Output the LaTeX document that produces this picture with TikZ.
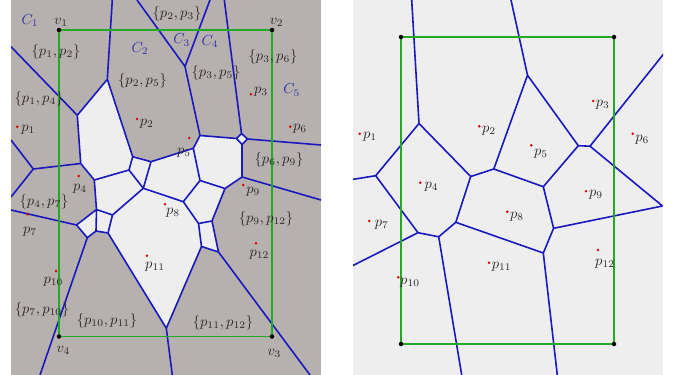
\documentclass[tikz,border=0pt]{standalone}
\definecolor{panelgray}{RGB}{182,176,174}
\definecolor{cellwhite}{RGB}{238,238,238}
\definecolor{vblue}{RGB}{25,25,190}
\definecolor{bgreen}{RGB}{35,170,35}
\definecolor{cblue}{RGB}{50,50,170}
\definecolor{txt}{RGB}{40,40,40}
\tikzset{
  vor/.style={draw=vblue, line width=1.6pt, line join=round},
  bbox/.style={draw=bgreen, line width=1.5pt},
  lab/.style={scale=1.45, text=txt, inner sep=0pt},
  clab/.style={lab, text=cblue},
  site/.style={circle, fill=red!85!black, inner sep=0pt, minimum size=2.8pt},
  corner/.style={circle, fill=black, inner sep=0pt, minimum size=4.5pt}
}
\begin{document}
\begin{tikzpicture}[x=1pt,y=-1pt]
\useasboundingbox (0,0) rectangle (675,375);
\fill[white] (0,0) rectangle (675,375);
% ---------------- left panel ----------------
\fill[panelgray] (11,0) rectangle (321,375);
\coordinate (a1) at (107.3,79.3);
\coordinate (a2) at (77.3,115.3);
\coordinate (a3) at (80.7,163.5);
\coordinate (a4) at (33.3,169);
\coordinate (a5) at (94.3,180);
\coordinate (a6) at (132.7,156.7);
\coordinate (b1) at (129,170);
\coordinate (b2) at (151,161.7);
\coordinate (b3) at (143.3,188.3);
\coordinate (b4) at (200,135.5);
\coordinate (b5) at (242,177);
\coordinate (b6) at (193.3,148.3);
\coordinate (b7) at (200,180.5);
\coordinate (b8) at (225,188.5);
\coordinate (b10) at (183.3,201.7);
\coordinate (b11) at (198.5,223.5);
\coordinate (b12) at (212,221);
\coordinate (b13) at (218.5,252);
\coordinate (b14) at (201.5,246.5);
\coordinate (c1) at (166.3,328.3);
\coordinate (c2) at (96.5,209.5);
\coordinate (c3) at (112.5,215);
\coordinate (c4) at (76.5,225);
\coordinate (c5) at (87.3,237.7);
\coordinate (c6) at (96,231);
\coordinate (c7) at (108,233);
\coordinate (e1) at (185,66.5);
\coordinate (dT) at (241.5,133.5);
\coordinate (dR) at (247.5,139);
\coordinate (dB) at (242,144.5);
\coordinate (dL) at (236.5,138.5);
\coordinate (t1) at (112.3,0);
\coordinate (t2) at (137,0);
\coordinate (t3) at (210,0);
\coordinate (t4) at (224.3,0);
\coordinate (l1) at (11,46.7);
\coordinate (l2) at (11,140);
\coordinate (l3) at (11,197);
\coordinate (l4) at (11,210);
\coordinate (bt1) at (40,375);
\coordinate (bt2) at (172.3,375);
\coordinate (bt3) at (310,375);
\coordinate (r1) at (321,145);
\coordinate (r2) at (321,200);
% white cells
\fill[cellwhite] (a2)--(a1)--(a6)--(b1)--(a5)--(a3)--cycle;
\fill[cellwhite] (a6)--(b2)--(b3)--(b1)--cycle;
\fill[cellwhite] (a5)--(b1)--(b3)--(c3)--(c2)--cycle;
\fill[cellwhite] (b2)--(b6)--(b7)--(b10)--(b3)--cycle;
\fill[cellwhite] (b4)--(dL)--(dB)--(b5)--(b8)--(b7)--(b6)--cycle;
\fill[cellwhite] (dT)--(dR)--(dB)--(dL)--cycle;
\fill[cellwhite] (b7)--(b8)--(b12)--(b11)--(b10)--cycle;
\fill[cellwhite] (b11)--(b12)--(b13)--(b14)--cycle;
\fill[cellwhite] (c7)--(c3)--(b3)--(b10)--(b11)--(b14)--(c1)--cycle;
\fill[cellwhite] (c2)--(c3)--(c7)--(c6)--cycle;
\fill[cellwhite] (c4)--(c2)--(c6)--(c5)--cycle;
\begin{scope}
\clip (11,0) rectangle (321,375);
\draw[vor] (t1)--(a1) (l1)--(a2) (a1)--(a2) (a1)--(a6) (a2)--(a3) (a3)--(a4)
  (a3)--(a5) (a4)--(l2) (a4)--(l3);
\draw[vor] (a5)--(b1) (b1)--(a6) (a6)--(b2) (b2)--(b3) (b1)--(b3) (b3)--(c3)
  (a5)--(c2) (c2)--(c3) (c3)--(c7) (c7)--(c6) (c6)--(c2) (c2)--(c4)
  (c4)--(c5) (c5)--(c6) (c4)--(l4) (c5)--(bt1);
\draw[vor] (c7)--(c1) (c1)--(bt2) (c1)--(b14);
\draw[vor] (b2)--(b6) (b6)--(b4) (b4)--(e1) (e1)--(t2) (e1)--(t3) (b4)--(dL)
  (dT)--(dR)--(dB)--(dL)--cycle (dT)--(t4) (dR)--(r1) (dB)--(b5) (b5)--(r2)
  (b5)--(b8) (b8)--(b7) (b7)--(b6) (b7)--(b10) (b10)--(b3) (b10)--(b11)
  (b8)--(b12) (b11)--(b12) (b11)--(b14) (b12)--(b13) (b13)--(b14) (b13)--(bt3);
\end{scope}
% box
\coordinate (v1) at (59,30);
\coordinate (v2) at (272,30);
\coordinate (v3) at (272,336.5);
\coordinate (v4) at (59,336.5);
\draw[bbox] (v1)--(v2)--(v3)--(v4)--cycle;
\foreach \c in {v1,v2,v3,v4} \node[corner] (n\c) at (\c) {};
% sites
\foreach \n/\x/\y in {1/17.3/126.7,2/137/119,3/251/94.3,4/78.7/176,5/189.3/138,6/290.3/126.7,
  7/27.3/214.3,8/165/204.3,9/243.3/185,10/56/271,11/147/255.7,12/256/243.3}
  \node[site] (s\n) at (\x,\y) {};
% labels
\node[clab] (C1) at (30,20.7) {$C_1$};
\node[clab] (C2) at (140,48.3) {$C_2$};
\node[clab] (C3) at (181.7,40) {$C_3$};
\node[clab] (C4) at (210,41.7) {$C_4$};
\node[clab] (C5) at (291.7,90) {$C_5$};
\node[lab] (lv1) at (61,22) {$v_1$};
\node[lab] (lv2) at (276.7,22) {$v_2$};
\node[lab] (lv3) at (274.3,353) {$v_3$};
\node[lab] (lv4) at (63.3,350) {$v_4$};
\node[lab] (q12) at (56,52) {$\{p_1,p_2\}$};
\node[lab] (q23) at (177,14) {$\{p_2,p_3\}$};
\node[lab] (q25) at (142.5,81) {$\{p_2,p_5\}$};
\node[lab] (q14) at (39,99) {$\{p_1,p_4\}$};
\node[lab] (q35) at (216,73) {$\{p_3,p_5\}$};
\node[lab] (q36) at (273,57) {$\{p_3,p_6\}$};
\node[lab] (q69) at (279,160) {$\{p_6,p_9\}$};
\node[lab] (q47) at (44,202) {$\{p_4,p_7\}$};
\node[lab] (q710) at (42,310) {$\{p_7,p_{10}\}$};
\node[lab] (q1011) at (107,321) {$\{p_{10},p_{11}\}$};
\node[lab] (q912) at (266,219) {$\{p_9,p_{12}\}$};
\node[lab] (q1112) at (223,323) {$\{p_{11},p_{12}\}$};
\foreach \n/\x/\y in {1/28.3/130,2/146.7/124,3/261/92,4/80/189,5/184/153,6/300/128.3,
  7/30/231.7,8/173/213,9/253.3/191.5,10/53.3/281.7,11/155/266.7,12/259.3/255}
  \node[lab] (lp\n) at (\x,\y) {$p_{\n}$};
% ---------------- right panel ----------------
\fill[cellwhite] (353,0) rectangle (663,375);
\coordinate (RA) at (419,123.5);
\coordinate (RB) at (375.7,175.7);
\coordinate (RC) at (470.7,176.5);
\coordinate (RD) at (493.8,169);
\coordinate (RE) at (527.5,75.2);
\coordinate (RF) at (578.3,145.7);
\coordinate (RG) at (590,146.2);
\coordinate (RH) at (662.5,206);
\coordinate (RI) at (553.6,228.3);
\coordinate (RJ) at (543.3,186.7);
\coordinate (RK) at (543.3,253);
\coordinate (RL) at (455.8,222.3);
\coordinate (RM) at (438.7,236.8);
\coordinate (RN) at (418,232.7);
\coordinate (Rt1) at (411.7,0);
\coordinate (Rt2) at (511,0);
\coordinate (Rr1) at (664,53.5);
\coordinate (Rl1) at (352,179.5);
\coordinate (Rl2) at (352,266);
\coordinate (Rb1) at (557.3,375);
\coordinate (Rb2) at (461.7,375);
\begin{scope}
\clip (353,0) rectangle (663,375);
\draw[vor] (Rt1)--(RA) (RA)--(RB) (RB)--(Rl1) (RA)--(RC) (RC)--(RD) (RD)--(RE)
  (RE)--(Rt2) (RE)--(RF) (RF)--(RG) (RG)--(Rr1) (RG)--(RH) (RH)--(RI)
  (RD)--(RJ) (RJ)--(RF) (RJ)--(RI) (RI)--(RK) (RK)--(Rb1) (RK)--(RL)
  (RC)--(RL) (RL)--(RM) (RM)--(Rb2) (RM)--(RN) (RN)--(Rl2) (RN)--(RB);
\end{scope}
\coordinate (w1) at (401,37);
\coordinate (w2) at (614,37);
\coordinate (w3) at (614,344);
\coordinate (w4) at (401,344);
\draw[bbox] (w1)--(w2)--(w3)--(w4)--cycle;
\foreach \c in {w1,w2,w3,w4} \node[corner] (n\c) at (\c) {};
\foreach \n/\x/\y in {1/359.7/133.7,2/479.3/126.3,3/593.3/101,4/420.3/182.7,5/531.3/145.3,6/632.7/133.7,
  7/369.3/221,8/507.3/211.7,9/586/191.3,10/398.3/277.3,11/489/262.7,12/598/250}
  \node[site] (rs\n) at (\x,\y) {};
\foreach \n/\x/\y in {1/370/137,2/489/131,3/602.7/104.3,4/431.5/187,5/541/153.3,6/642.3/139.3,
  7/381.7/225,8/517/216.7,9/596/195,10/410/282.7,11/501.7/266.7,12/605/263.3}
  \node[lab] (rl\n) at (\x,\y) {$p_{\n}$};
\end{tikzpicture}
\end{document}
